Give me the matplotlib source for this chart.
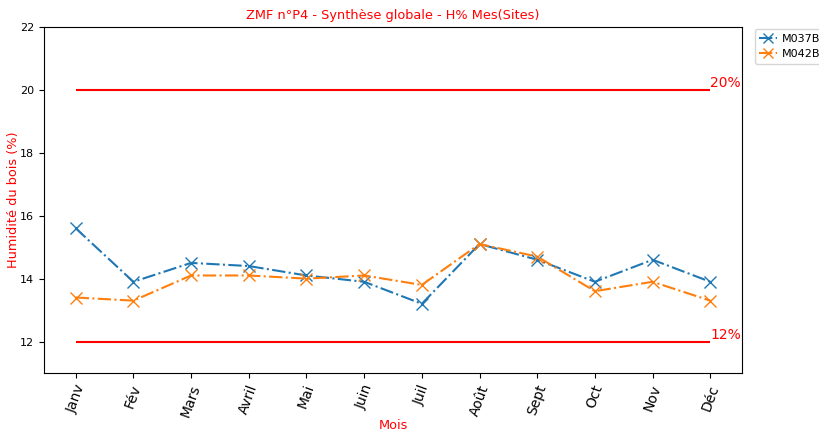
import matplotlib
matplotlib.use("Agg")
import matplotlib.pyplot as plt

mois = ["Janv", "Fév", "Mars", "Avril", "Mai", "Juin", "Juil", "Août",
        "Sept", "Oct", "Nov", "Déc"]
m037b = [15.6, 13.9, 14.5, 14.4, 14.1, 13.9, 13.2, 15.1, 14.6, 13.9, 14.6, 13.9]
m042b = [13.4, 13.3, 14.1, 14.1, 14.0, 14.1, 13.8, 15.1, 14.7, 13.6, 13.9, 13.3]
seuil_haut = 20
seuil_bas = 12

fig = plt.figure(figsize=(8.19, 4.32), dpi=100)
ax = fig.add_axes([0.0537, 0.1366, 0.8523, 0.8009])

x = list(range(len(mois)))
ax.plot(x, m037b, linestyle="-.", marker="x", markersize=9, color="tab:blue",
        label="M037B")
ax.plot(x, m042b, linestyle="-.", marker="x", markersize=9, color="tab:orange",
        label="M042B")

ax.hlines(seuil_haut, x[0], x[-1], color="red", linewidth=1.5)
ax.hlines(seuil_bas, x[0], x[-1], color="red", linewidth=1.5)
ax.text(x[-1], seuil_haut, f"{seuil_haut}%", color="red", fontsize=10,
        va="bottom", ha="left")
ax.text(x[-1], seuil_bas, f"{seuil_bas}%", color="red", fontsize=10,
        va="bottom", ha="left")

ax.set_ylim(11, 22)
ax.set_xticks(x)
ax.set_xticklabels(mois, rotation=70, fontsize=10)
ax.tick_params(axis="y", labelsize=8)
ax.set_title("ZMF n°P4 - Synthèse globale - H% Mes(Sites)", color="red",
             fontsize=9.3)
ax.set_xlabel("Mois", color="red", fontsize=9.3, labelpad=0)
ax.set_ylabel("Humidité du bois (%)", color="red", fontsize=9.3)
ax.yaxis.set_label_coords(-0.034, 0.5)
ax.legend(loc="upper left", bbox_to_anchor=(1.01, 1.01), fontsize=8,
          handlelength=1.6, handletextpad=0.5, borderpad=0.4,
          markerscale=0.85)

fig.savefig("out.png", dpi=100)
